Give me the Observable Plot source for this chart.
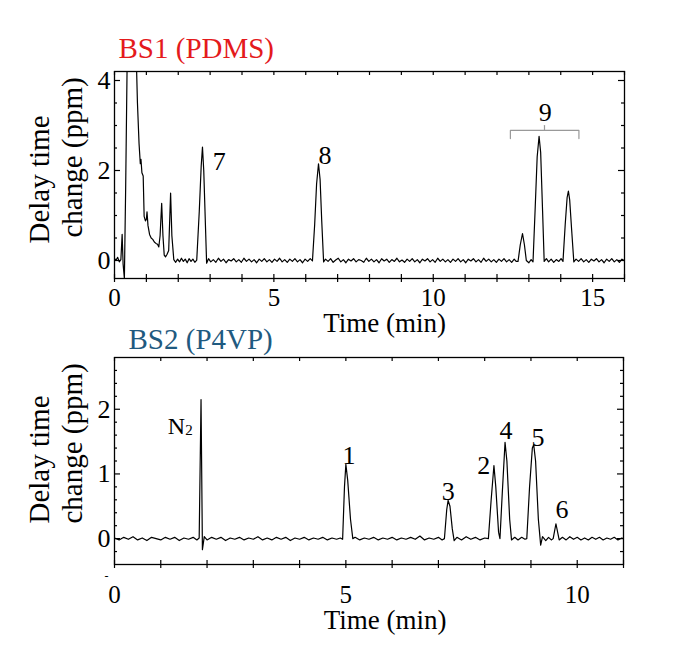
<!DOCTYPE html>
<html>
<head>
<meta charset="utf-8">
<script src="https://cdn.jsdelivr.net/npm/d3@7"></script>
<script src="https://cdn.jsdelivr.net/npm/@observablehq/plot@0.6"></script>
<style>
  body { margin: 0; background: #fff; }
  #wrap { position: relative; width: 700px; height: 656px; background: #fff; }
  #wrap svg { position: absolute; left: 0; }
</style>
</head>
<body>
<div id="wrap"></div>
<script>
// ---------- DATA ----------
// BS1 (PDMS) trace: [time (min), delay time change (ppm)]
const bs1Trace = [
  [0.00,0.04],[0.05,0.01],[0.10,0.07],[0.15,-0.03],[0.20,0.02],[0.24,0.58],[0.27,-0.08],[0.31,-0.40],
  [0.35,1.6],[0.40,4.6],[0.68,4.6],[0.72,3.5],[0.77,2.6],[0.81,2.15],[0.83,2.25],[0.86,1.95],[0.90,1.88],
  [0.93,0.98],[0.97,0.88],[1.00,0.92],[1.02,1.08],[1.05,0.78],[1.10,0.58],[1.15,0.50],[1.20,0.47],
  [1.25,0.41],[1.30,0.38],[1.35,0.36],[1.39,0.30],[1.43,0.55],[1.48,1.27],[1.52,0.55],[1.56,0.12],
  [1.60,0.08],[1.65,0.14],[1.70,0.22],[1.76,1.50],[1.80,0.55],[1.86,0.02],
  [1.92,-0.04],[1.98,0.03],[2.04,-0.03],[2.10,0.05],[2.16,-0.02],[2.22,0.03],[2.28,-0.05],[2.34,0.04],
  [2.40,-0.02],[2.46,0.03],[2.52,-0.04],[2.58,0.01],
  [2.66,1.10],[2.72,2.10],[2.76,2.52],[2.80,2.00],[2.85,0.85],[2.89,-0.06],
  [2.95,0.04],[3.02,-0.03],[3.10,0.02],[3.18,-0.04],[3.26,0.05],[3.34,-0.02],[3.42,0.03],[3.50,-0.05],
  [3.58,0.02],[3.66,-0.01],[3.74,0.04],[3.82,-0.03],[3.90,0.02],[3.98,-0.04],[4.06,0.05],[4.14,-0.02],
  [4.22,0.03],[4.30,-0.03],[4.38,0.02],[4.46,-0.05],[4.54,0.03],[4.62,-0.02],[4.70,0.04],[4.78,-0.03],
  [4.86,0.02],[4.94,-0.04],[5.02,0.03],[5.10,-0.02],[5.18,0.05],[5.26,-0.03],[5.34,0.02],[5.42,-0.04],
  [5.50,0.03],[5.58,-0.02],[5.66,0.04],[5.74,-0.03],[5.82,0.02],[5.90,-0.05],[5.98,0.03],[6.06,-0.02],
  [6.14,0.04],[6.21,-0.01],
  [6.28,0.80],[6.34,1.70],[6.40,2.15],[6.45,1.80],[6.50,0.90],[6.56,-0.03],
  [6.62,0.03],[6.70,-0.02],[6.78,0.04],[6.86,-0.04],[6.94,0.01],[7.02,0.05],[7.10,-0.03],[7.18,0.02],
  [7.26,-0.05],[7.34,0.03],[7.42,-0.01],[7.50,0.04],[7.58,-0.03],[7.66,0.02],[7.74,0.00],[7.82,-0.04],
  [7.90,0.05],[7.98,-0.02],[8.06,0.03],[8.14,-0.03],[8.22,0.02],[8.30,-0.05],[8.38,0.04],[8.46,-0.01],
  [8.54,0.03],[8.62,-0.04],[8.70,0.02],[8.78,-0.02],[8.86,0.05],[8.94,-0.03],[9.02,0.01],[9.10,-0.04],
  [9.18,0.03],[9.26,-0.02],[9.34,0.04],[9.42,-0.03],[9.50,0.02],[9.58,-0.05],[9.66,0.03],[9.74,-0.01],
  [9.82,0.04],[9.90,-0.03],[9.98,0.02],[10.06,-0.04],[10.14,0.05],[10.22,-0.02],[10.30,0.03],[10.38,-0.03],
  [10.46,0.02],[10.54,-0.04],[10.62,0.03],[10.70,-0.02],[10.78,0.04],[10.86,-0.03],[10.94,0.02],[11.02,-0.05],
  [11.10,0.03],[11.18,-0.01],[11.26,0.04],[11.34,-0.03],[11.42,0.02],[11.50,-0.04],[11.58,0.05],[11.66,-0.02],
  [11.74,0.03],[11.82,-0.03],[11.90,0.02],[11.98,-0.04],[12.06,0.03],[12.14,-0.02],[12.22,0.04],[12.30,-0.03],
  [12.38,0.02],[12.46,-0.04],[12.54,0.03],[12.60,-0.02],
  [12.66,-0.02],[12.73,0.35],[12.80,0.60],[12.86,0.35],[12.92,0.00],[13.00,-0.05],[13.07,0.02],[13.13,-0.03],
  [13.20,1.20],[13.26,2.30],[13.32,2.76],[13.37,2.40],[13.43,1.10],[13.48,-0.02],
  [13.55,0.04],[13.62,-0.03],[13.70,0.03],[13.78,-0.04],[13.86,0.02],[13.94,-0.02],[14.01,0.04],[14.07,-0.02],
  [14.14,0.80],[14.20,1.40],[14.24,1.54],[14.28,1.35],[14.34,0.70],[14.41,-0.03],
  [14.48,0.03],[14.56,-0.02],[14.64,0.04],[14.72,-0.03],[14.80,0.02],[14.88,-0.04],[14.96,0.03],[15.04,-0.01],
  [15.12,0.04],[15.20,-0.03],[15.28,0.02],[15.36,-0.05],[15.44,0.03],[15.52,-0.02],[15.60,0.04],[15.68,-0.03],
  [15.76,0.02],[15.84,-0.04],[15.92,0.03],[16.00,-0.01]
];

// BS2 (P4VP) trace: [time (min), delay time change (ppm)]
const bs2Trace = [
  [0.00,0.01],[0.10,-0.02],[0.20,0.02],[0.30,-0.01],[0.40,0.03],[0.50,-0.02],[0.60,0.01],[0.70,-0.03],
  [0.80,0.02],[0.90,0.00],[1.00,-0.02],[1.10,0.02],[1.20,-0.01],[1.30,0.02],[1.40,-0.03],[1.50,0.01],
  [1.60,-0.01],[1.70,0.02],[1.78,-0.02],[1.83,0.01],
  [1.87,2.15],[1.90,-0.17],[1.94,0.03],
  [2.00,-0.02],[2.10,0.02],[2.20,-0.01],[2.30,0.02],[2.40,-0.03],[2.50,0.01],[2.60,-0.01],[2.70,0.02],
  [2.80,-0.02],[2.90,0.01],[3.00,-0.01],[3.10,0.03],[3.20,-0.02],[3.30,0.01],[3.40,-0.02],[3.50,0.02],
  [3.60,-0.01],[3.70,0.02],[3.80,-0.03],[3.90,0.01],[4.00,-0.01],[4.10,0.02],[4.20,-0.02],[4.30,0.01],
  [4.40,-0.01],[4.50,0.02],[4.60,-0.02],[4.70,0.01],[4.80,-0.01],[4.88,0.01],[4.93,-0.01],
  [4.97,0.80],[5.00,1.15],[5.04,0.90],[5.10,0.30],[5.15,0.00],
  [5.20,0.02],[5.30,-0.02],[5.40,0.01],[5.50,-0.01],[5.60,0.02],[5.70,-0.02],[5.80,0.01],[5.90,-0.01],
  [6.00,0.02],[6.10,-0.02],[6.20,0.01],[6.30,-0.01],[6.40,0.02],[6.50,-0.01],[6.60,0.04],[6.70,-0.02],
  [6.80,0.01],[6.90,-0.01],[7.00,0.02],[7.08,-0.02],[7.13,0.00],
  [7.18,0.45],[7.21,0.59],[7.25,0.50],[7.30,0.15],[7.34,-0.03],
  [7.40,0.02],[7.50,-0.02],[7.60,0.03],[7.70,-0.01],[7.80,0.02],[7.90,-0.02],[8.00,0.01],[8.08,0.00],
  [8.14,0.60],[8.20,1.13],[8.24,0.80],[8.30,0.10],[8.33,0.00],
  [8.38,0.70],[8.44,1.49],[8.48,1.20],[8.54,0.30],[8.58,-0.02],
  [8.65,0.02],[8.72,-0.02],[8.80,0.02],[8.87,-0.01],[8.91,0.00],
  [8.97,0.80],[9.03,1.40],[9.06,1.45],[9.10,1.20],[9.16,0.30],[9.21,-0.10],[9.25,0.03],
  [9.32,-0.03],[9.38,0.02],[9.44,-0.02],[9.48,0.00],
  [9.54,0.23],[9.61,-0.02],
  [9.68,0.02],[9.76,-0.02],[9.84,0.03],[9.92,-0.01],[10.00,0.02],[10.08,-0.02],[10.16,0.01],[10.24,-0.02],
  [10.32,0.02],[10.40,-0.01],[10.48,0.02],[10.56,-0.02],[10.64,0.01],[10.72,-0.01],[10.80,0.02],[10.88,-0.02],
  [10.96,0.01],[11.00,0.00]
];

// Peak labels
const bs1PeakLabels = [
  {label: "7", t: 3.29, v: 2.19},
  {label: "8", t: 6.60, v: 2.34},
  {label: "9", t: 13.51, v: 3.28}
];
const bs2PeakLabels = [
  {label: "1", t: 5.07, v: 1.28},
  {label: "3", t: 7.21, v: 0.72},
  {label: "2", t: 7.98, v: 1.13},
  {label: "4", t: 8.46, v: 1.67},
  {label: "5", t: 9.15, v: 1.56},
  {label: "6", t: 9.67, v: 0.45}
];
const n2Label = {main: "N", sub: "2", t: 1.527, v: 1.74};

// Bracket around group 9 (data coordinates)
const bracket9 = [[12.42,2.71],[12.42,2.89],[14.57,2.89],[14.57,2.71]];
const bracket9Tip = [[13.49,2.89],[13.49,3.0]];

// Ticks
const bs1XTicks = [0,1,2,3,4,5,6,7,8,9,10,11,12,13,14,15,16];
const bs1XTickLabels = [0,5,10,15];
const bs1YTicks = [0,0.5,1,1.5,2,2.5,3,3.5,4];
const bs1YMajor = [0,2,4];
const bs2XTicks = [0,1,2,3,4,5,6,7,8,9,10,11];
const bs2XTickLabels = [0,5,10];
const bs2YTicks = [-0.2,0,0.2,0.4,0.6,0.8,1,1.2,1.4,1.6,1.8,2,2.2,2.4,2.6];
const bs2YMajor = [0,1,2];

const titles = {bs1: "BS1 (PDMS)", bs2: "BS2 (P4VP)"};
const xLabel = "Time (min)";
const yLabel1 = "Delay time";
const yLabel2 = "change (ppm)";

// ---------- DRAW ----------
const FONT = "'Liberation Serif', 'Times New Roman', serif";
const W = 700;

function panel({height, mt, mb, ml, mr, xDomain, yDomain, trace, xTicks, xTickLabels, yTicks, yMajor,
                title, titleColor, titleDx, titleDy, tickDy, xLabDx, xLabDy, yLab1Dy, yLab2Dy, extra}) {
  const fw = W - ml - mr, fh = height - mt - mb;
  const minorY = yTicks.filter(d => !yMajor.includes(d));
  const T = {lineAnchor: "middle", fill: "#000"};
  const marks = [
    Plot.line(trace, {x: d => d[0], y: d => d[1], stroke: "#000", strokeWidth: 1.2, clip: true}),
    Plot.frame({stroke: "#000", strokeWidth: 1.3}),
    Plot.tickX(xTicks, {x: d => d, insetTop: fh - 4, insetBottom: -4, stroke: "#000", strokeWidth: 1.2}),
    Plot.tickX(xTicks, {x: d => d, insetBottom: fh - 4, stroke: "#000", strokeWidth: 1.2}),
    Plot.tickY(yMajor, {y: d => d, insetRight: fw - 6, stroke: "#000", strokeWidth: 1.2}),
    Plot.tickY(minorY, {y: d => d, insetRight: fw - 3, stroke: "#000", strokeWidth: 1.2}),
    Plot.tickY(yMajor, {y: d => d, insetLeft: fw - 6, stroke: "#000", strokeWidth: 1.2}),
    Plot.tickY(minorY, {y: d => d, insetLeft: fw - 3, stroke: "#000", strokeWidth: 1.2}),
    Plot.text(xTickLabels, {...T, x: d => d, frameAnchor: "bottom", dy: tickDy, text: d => String(d), fontSize: 25}),
    Plot.text(yMajor, {...T, y: d => d, frameAnchor: "left", textAnchor: "end", dx: -4, text: d => String(d), fontSize: 26}),
    Plot.text([xLabel], {...T, frameAnchor: "bottom", dx: xLabDx, dy: xLabDy, fontSize: 27}),
    Plot.text([yLabel1], {...T, frameAnchor: "bottom-left", rotate: -90, textAnchor: "start", dx: -75, dy: yLab1Dy, fontSize: 29}),
    Plot.text([yLabel2], {...T, frameAnchor: "bottom-left", rotate: -90, textAnchor: "start", dx: -42, dy: yLab2Dy, fontSize: 29}),
    Plot.text([title], {...T, frameAnchor: "top-left", textAnchor: "start", dx: titleDx, dy: titleDy,
      fontSize: 29, fill: titleColor}),
    ...extra
  ];
  return Plot.plot({
    width: W, height,
    marginTop: mt, marginBottom: mb, marginLeft: ml, marginRight: mr,
    x: {domain: xDomain}, y: {domain: yDomain},
    axis: null,
    style: {fontFamily: FONT, background: "transparent", overflow: "visible"},
    marks
  });
}

const topPanel = panel({
  height: 330, mt: 71, mb: 52, ml: 114, mr: 76,
  xDomain: [0, 16], yDomain: [-0.4, 4.2], trace: bs1Trace,
  xTicks: bs1XTicks, xTickLabels: bs1XTickLabels, yTicks: bs1YTicks, yMajor: bs1YMajor,
  title: titles.bs1, titleColor: "#e41a1c", titleDx: 4, titleDy: -23,
  tickDy: 19, xLabDx: 15, xLabDy: 45, yLab1Dy: -35, yLab2Dy: -41,
  extra: [
    Plot.line(bracket9, {x: d => d[0], y: d => d[1], stroke: "#999", strokeWidth: 1.2}),
    Plot.line(bracket9Tip, {x: d => d[0], y: d => d[1], stroke: "#999", strokeWidth: 1.2}),
    Plot.text(bs1PeakLabels, {x: "t", y: "v", text: "label", fontSize: 26, fill: "#000"})
  ]
});

const bottomPanel = panel({
  height: 326, mt: 27, mb: 92, ml: 114, mr: 77,
  xDomain: [0, 11], yDomain: [-0.4, 2.8], trace: bs2Trace,
  xTicks: bs2XTicks, xTickLabels: bs2XTickLabels, yTicks: bs2YTicks, yMajor: bs2YMajor,
  title: titles.bs2, titleColor: "#1f5a80", titleDx: 14, titleDy: -18,
  tickDy: 30, xLabDx: 16, xLabDy: 56, yLab1Dy: -41, yLab2Dy: -41,
  extra: [
    Plot.text(bs2PeakLabels, {x: "t", y: "v", text: "label", fontSize: 26, fill: "#000"}),
    Plot.text([n2Label], {x: "t", y: "v", text: "main", textAnchor: "end", fontSize: 24, fill: "#000"}),
    Plot.text([n2Label], {x: "t", y: "v", text: "sub", textAnchor: "start", dy: 4, fontSize: 15, fill: "#000"}),
    Plot.text(["-"], {frameAnchor: "bottom-left", lineAnchor: "middle", dx: -10, dy: 12, fontSize: 12, fill: "#000"})
  ]
});

topPanel.style.top = "0px";
bottomPanel.style.top = "330px";
document.getElementById("wrap").append(topPanel, bottomPanel);
</script>
</body>
</html>
